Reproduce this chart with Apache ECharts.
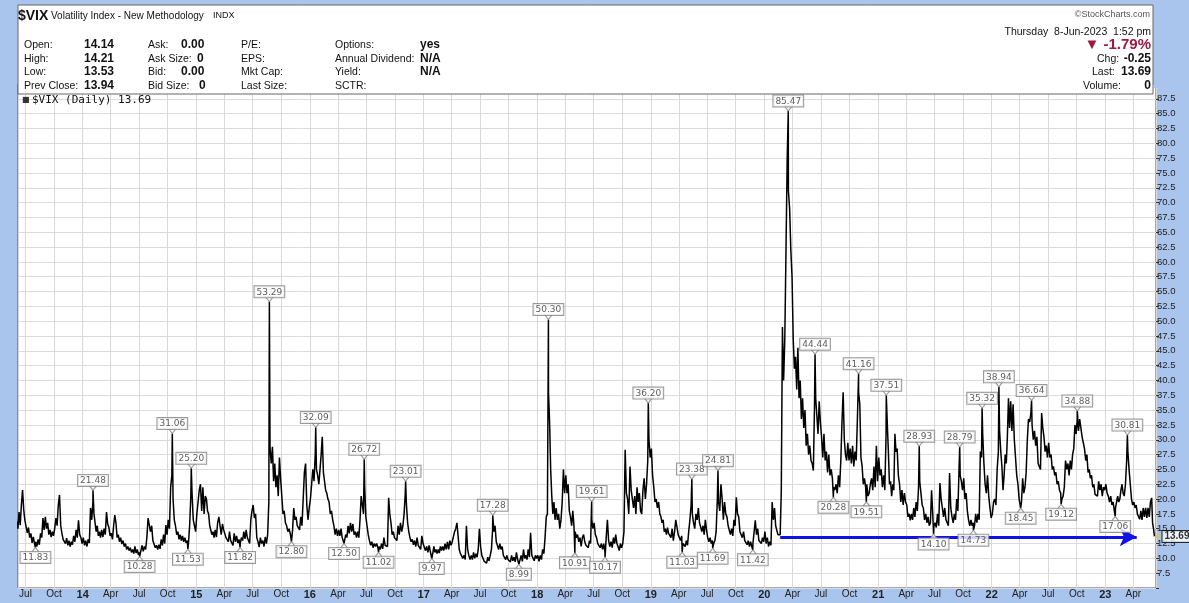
<!DOCTYPE html>
<html><head><meta charset="utf-8">
<script src="https://cdn.jsdelivr.net/npm/echarts@6/dist/echarts.min.js"></script>
<style>html,body{margin:0;padding:0;background:#a9c5ee;}#c{width:1189px;height:603px;}</style>
</head><body><div id="c"></div>
<script>
// ---- DATA: VIX daily, read as 8 alternating readings per month ----
const v2013 = [ // Jun..Dec
 16.2,15.0,17.8,15.6,19.0,21.5,18.2,16.4, 16.5,14.3,15.2,13.5,14.2,12.6,13.6,12.5, 12.8,12.0,13.2,12.3,14.2,13.5,16.8,14.8,
 17.0,15.0,16.0,14.0,14.8,13.6,14.5,13.8, 15.0,16.8,15.5,19.0,20.7,15.5,14.2,13.2, 13.5,12.5,13.4,12.2,13.0,12.0,12.8,12.3,
 13.8,12.8,14.8,13.5,16.4,14.0,13.5,12.5];
const v2014 = [
 13.5,12.2,13.0,12.0,13.2,12.6,18.5,16.5, 19.5,17.5,16.0,14.5,15.5,13.8,14.5,13.5, 14.8,13.6,15.0,14.0,17.8,15.8,15.2,13.8,
 14.2,13.2,15.5,17.3,16.0,13.5,14.0,12.8, 13.5,12.4,13.0,12.0,12.5,11.5,12.0,11.3, 11.8,11.0,11.5,10.8,12.0,10.9,11.5,10.6,
 11.0,10.6,12.2,11.2,12.0,11.5,13.5,16.8, 17.0,14.5,15.5,13.0,12.8,11.8,12.2,11.5, 12.3,11.6,13.2,12.2,14.0,12.5,15.6,14.0,
 16.5,15.0,22.0,24.0,20.0,16.5,15.5,14.0, 14.5,13.2,14.0,13.0,13.8,12.8,13.5,12.6, 13.0,12.5,15.5,20.5,21.0,16.5,15.5,14.5];
const v2015 = [
 17.5,19.5,21.5,22.5,18.0,22.0,17.5,20.5, 20.0,18.0,17.5,15.5,15.5,14.0,14.5,13.5, 14.8,13.6,16.0,17.0,15.5,14.0,15.8,14.8,
 14.8,13.5,13.8,12.8,14.5,13.0,13.0,12.2, 14.2,12.8,13.8,12.6,13.2,12.5,13.5,13.0, 14.5,13.3,14.8,13.5,13.8,12.5,16.5,18.0,
 19.0,16.8,17.5,13.5,12.8,11.9,13.5,12.5, 13.0,12.0,13.6,12.5,14.0,19.5,28.5,26.0, 28.8,23.0,26.0,22.0,24.0,20.5,27.0,23.5,
 20.5,17.5,18.0,16.0,15.5,14.5,15.0,14.2, 14.0,14.8,18.5,16.5,17.0,15.5,15.5,14.8, 17.0,15.5,20.0,24.5,26.0,19.0,16.5,18.5];
const v2016 = [
 20.0,22.5,25.0,23.0,27.5,25.0,24.0,22.5, 25.0,27.5,30.5,24.5,23.0,21.5,21.0,20.0, 19.5,17.5,18.0,16.5,15.5,14.0,15.0,13.8,
 14.8,13.8,15.0,13.5,13.8,13.0,14.0,13.5, 15.5,14.2,16.0,14.5,15.8,14.0,14.5,13.5, 14.5,13.5,16.5,20.5,19.0,17.5,22.0,17.0,
 15.5,14.0,13.0,12.2,12.8,11.8,12.5,12.0, 12.5,11.8,12.0,11.5,12.5,11.6,13.5,12.2, 12.5,12.0,20.2,17.5,16.0,14.0,14.5,13.5,
 13.5,13.0,15.5,14.0,16.0,14.5,15.5,17.5, 21.0,19.0,16.0,14.5,13.5,12.8,13.2,12.3, 13.0,12.0,13.5,12.2,12.5,11.5,13.8,12.5];
const v2017 = [
 12.5,11.3,12.0,11.0,12.2,11.2,11.0,10.8, 12.0,11.0,11.5,10.8,11.5,10.9,12.0,11.3, 12.0,11.3,12.5,11.5,12.8,11.5,13.0,12.2,
 12.8,12.5,14.5,15.0,16.0,13.8,11.5,10.8, 10.8,10.0,10.5,9.8,15.5,11.5,10.5,9.8, 10.5,9.8,11.0,10.0,10.8,10.2,11.5,15.0,
 12.0,10.5,10.2,9.5,9.8,9.2,10.2,9.6, 10.5,11.5,15.0,14.5,15.5,12.8,12.5,11.5, 12.5,11.5,12.0,10.5,10.8,9.8,10.5,9.8,
 10.0,9.4,10.5,9.6,10.2,9.4,11.0,9.8, 9.6,9.3,10.5,9.5,11.5,10.0,10.5,9.8, 11.5,10.2,14.3,10.5,10.8,9.6,10.5,10.0];
const v2018 = [
 10.5,9.5,10.5,9.8,11.5,10.8,13.5,17.0, 17.5,38.0,33.0,25.0,20.5,17.5,19.5,16.5, 18.5,16.5,17.5,15.0,16.5,19.5,25.0,21.0,
 24.0,21.0,22.5,18.0,17.0,15.5,18.0,15.5, 14.5,13.5,14.0,12.8,13.5,12.0,13.5,14.0, 12.8,12.2,12.5,11.8,13.0,12.5,16.5,15.0,
 16.0,14.0,13.5,12.5,12.8,11.8,12.5,11.5, 12.5,11.0,13.5,16.5,13.0,12.0,12.8,11.8, 13.5,12.5,14.0,12.5,12.0,11.3,12.5,11.8,
 12.5,14.5,28.3,21.0,20.0,17.5,25.5,21.5, 20.0,18.5,20.5,17.5,22.0,19.5,21.0,18.0, 17.5,21.5,23.5,20.0,22.5,26.5,30.0,27.0];
const v2019 = [
 28.5,24.0,22.0,19.5,20.0,18.5,19.5,17.5, 17.0,16.0,16.5,14.5,15.0,14.0,15.2,14.2, 14.0,13.5,15.0,13.0,14.5,16.5,16.8,14.0,
 14.0,13.0,13.8,12.5,12.8,12.0,13.0,12.2, 14.5,16.5,19.0,17.5,16.0,15.0,17.5,16.5, 18.5,16.0,16.0,14.5,15.5,14.0,16.5,14.8,
 13.5,12.8,13.5,12.5,13.0,12.5,13.0,14.5, 20.0,19.5,18.0,22.5,20.0,16.5,19.5,17.5, 17.0,15.5,15.5,14.0,15.0,13.8,16.5,15.5,
 20.3,17.5,17.0,14.5,14.2,13.5,14.5,13.0, 13.0,12.3,13.0,12.0,12.8,12.0,12.5,12.2, 16.4,14.0,15.0,13.0,13.0,12.5,13.5,12.8];
const v2020 = [
 14.5,12.5,13.5,12.0,12.8,12.2,19.5,16.5, 18.5,15.5,15.5,14.0,14.2,14.0,21.5,49.0, 40.0,47.0,62.0,77.5,72.0,69.0,62.0,57.5,
 47.0,42.0,44.0,38.5,45.5,37.0,40.0,33.5, 37.0,32.0,35.0,29.0,31.0,27.5,29.0,26.5, 26.0,24.8,36.0,37.0,34.0,31.0,36.5,33.0,
 30.5,27.0,31.0,26.5,28.0,24.5,27.5,24.0, 25.0,23.5,22.0,21.5,22.5,21.0,24.0,22.0, 26.5,33.0,38.0,30.0,27.5,26.5,29.5,26.5,
 28.5,26.0,29.0,25.5,28.0,26.5,33.5,38.0, 36.0,27.0,25.5,22.5,23.5,22.0,22.5,20.5, 21.0,22.5,23.5,21.5,25.5,22.0,29.0,23.0];
const v2021 = [
 27.0,24.0,25.0,22.0,24.0,21.5,30.5,33.0, 28.0,22.5,23.0,20.5,22.5,21.5,31.0,28.0, 28.5,24.0,22.5,19.5,21.5,19.0,21.0,19.5,
 19.0,17.0,17.5,16.4,17.5,16.5,18.5,17.0, 19.5,18.0,22.0,23.0,21.0,19.0,18.5,16.5, 17.5,16.0,17.0,15.5,16.0,21.5,17.5,15.5,
 16.0,15.2,17.5,15.5,22.7,20.0,18.5,17.0, 18.5,16.5,16.5,15.5,24.4,18.5,17.0,16.0, 17.5,16.5,20.0,18.0,25.0,24.0,23.0,21.5,
 23.5,20.0,21.0,18.0,16.5,15.5,16.5,15.5, 16.0,15.5,17.5,16.0,17.5,16.5,28.0,27.0, 31.0,26.0,22.5,21.0,24.0,20.5,18.5,16.8];
const v2022 = [
 17.5,19.5,20.0,19.0,25.0,28.0,31.5,28.0, 25.5,21.5,24.0,27.5,26.0,30.5,37.0,32.0, 36.5,31.5,36.0,30.0,27.0,24.0,22.5,20.0,
 20.0,19.5,23.5,21.0,22.0,24.5,30.0,33.5, 33.0,34.5,32.5,30.0,31.5,29.0,30.5,26.0, 26.0,25.0,34.5,32.0,30.5,28.0,29.0,27.0,
 29.5,27.0,27.5,25.0,25.5,24.0,24.5,22.5, 23.0,21.5,21.0,20.0,20.5,22.0,26.5,25.0, 26.0,24.0,26.5,25.0,27.5,28.5,32.5,31.0,
 33.5,31.5,33.5,32.0,30.5,29.5,28.5,26.5, 27.5,24.5,25.0,23.5,24.0,22.0,22.5,20.8, 21.0,20.5,23.0,21.5,22.5,20.5,22.0,21.5];
const v2023 = [ // Jan..May
 22.5,21.0,20.5,19.5,20.5,19.0,19.5,18.0, 18.5,18.5,20.5,19.5,20.0,21.5,22.5,21.0, 20.5,22.5,26.5,28.0,25.0,22.5,20.0,19.0,
 19.5,18.5,19.0,17.5,17.5,16.6,18.0,16.5, 18.5,17.0,18.5,16.8,18.5,17.0,19.5,20.2];
const lastDates = ['2023-06-02','2023-06-05','2023-06-08'];
const lastVals = [16.0, 15.0, 13.69];

const peakDates = ['2014-02-03','2014-10-16','2014-12-16','2015-08-24','2016-01-20','2016-06-24','2016-11-04','2017-08-11','2018-02-06','2018-06-25','2018-12-24','2019-05-13','2019-08-05','2020-03-18','2020-06-12','2020-10-30','2021-01-27','2021-05-13','2021-09-20','2021-12-01','2022-01-24','2022-05-09','2022-10-03','2023-03-13'];
const peakVals = [21.48,31.06,25.20,53.29,32.09,26.72,23.01,17.28,50.30,19.61,36.20,23.38,24.81,85.47,44.44,41.16,37.51,28.93,28.79,35.32,38.94,36.64,34.88,30.81];
const troughDates = ['2013-08-02','2014-07-03','2014-12-05','2015-05-22','2015-11-03','2016-04-20','2016-08-09','2017-01-27','2017-11-03','2018-05-02','2018-08-07','2019-04-12','2019-07-19','2019-11-25','2020-08-10','2020-11-24','2021-06-28','2021-11-03','2022-04-04','2022-08-12','2023-02-02'];
const troughVals = [11.83,10.28,11.53,11.82,12.80,12.50,11.02,9.97,8.99,10.91,10.17,11.03,11.69,11.42,20.28,19.51,14.10,14.73,18.45,19.12,17.06];

const arrowDates = ['2020-02-21','2023-04-12'];
const arrowLevel = 13.6;
const monthNames = ['Jan','Feb','Mar','Apr','May','Jun','Jul','Aug','Sep','Oct','Nov','Dec'];

// ---- build ----
const DAY = 86400000, PER = 8;
function ts(s){const p=s.split('-').map(Number);return Date.UTC(p[0],p[1]-1,p[2]);}
const yearBlocks = [[2013,5,v2013],[2014,0,v2014],[2015,0,v2015],[2016,0,v2016],[2017,0,v2017],[2018,0,v2018],[2019,0,v2019],[2020,0,v2020],[2021,0,v2021],[2022,0,v2022],[2023,0,v2023]];
const pts = [];
yearBlocks.forEach(([yr,m0,vals])=>{
  vals.forEach((v,k)=>{
    const m = m0 + Math.floor(k/PER), slot = k%PER;
    const dim = new Date(Date.UTC(yr,m+1,0)).getUTCDate();
    pts.push([Date.UTC(yr,m,1) + (slot+0.5)*dim/PER*DAY, v]);
  });
});
lastDates.forEach((d,i)=>pts.push([ts(d), lastVals[i]]));
peakDates.forEach((d,i)=>pts.push([ts(d), peakVals[i]]));
troughDates.forEach((d,i)=>pts.push([ts(d), troughVals[i]]));
pts.sort((a,b)=>a[0]-b[0]);

const labelBox = {show:true, formatter:p=>p.value[1].toFixed(2), color:'#333', fontFamily:'DejaVu Sans', fontSize:9,
  backgroundColor:'#fff', borderColor:'#808080', borderWidth:1, padding:[1,2,0,2], lineHeight:10};

const chart = echarts.init(document.getElementById('c'), null, {renderer:'canvas'});
const T = 'Liberation Sans';
function txt(x,y,s,o){return {type:'text', z:110, style:Object.assign({x:x,y:y,text:s,fill:'#111',font:'10.5px "Liberation Sans"',textVerticalAlign:'middle'},o||{})};}
const B = 'bold 12px "Liberation Sans"';
const rows=[45,59,72,86];
const g = [
  {type:'rect', z:100, shape:{x:1154,y:78,width:12,height:10}, style:{fill:'#a9c5ee'}},
  {type:'rect', z:100, shape:{x:18,y:5,width:1135,height:89}, style:{fill:'#fff',stroke:'#666',lineWidth:1}},
  txt(18,16,'$VIX',{font:'bold 14px "Liberation Sans"'}),
  txt(51,16,'Volatility Index - New Methodology',{font:'10px "Liberation Sans"'}),
  txt(213,16,'INDX',{font:'9px "Liberation Sans"'}),
  txt(1150,15,'\u00A9StockCharts.com',{font:'9px "Liberation Sans"',fill:'#555',textAlign:'right'}),
  txt(24,rows[0],'Open:'),txt(24,rows[1],'High:'),txt(24,rows[2],'Low:'),txt(24,rows[3],'Prev Close:'),
  txt(84,rows[0],'14.14',{font:B}),txt(84,rows[1],'14.21',{font:B}),
  txt(84,rows[2],'13.53',{font:B}),txt(84,rows[3],'13.94',{font:B}),
  txt(148,rows[0],'Ask:'),txt(148,rows[1],'Ask Size:'),txt(148,rows[2],'Bid:'),txt(148,rows[3],'Bid Size:'),
  txt(181,rows[0],'0.00',{font:B}),txt(197,rows[1],'0',{font:B}),
  txt(181,rows[2],'0.00',{font:B}),txt(199,rows[3],'0',{font:B}),
  txt(241,rows[0],'P/E:'),txt(241,rows[1],'EPS:'),txt(241,rows[2],'Mkt Cap:'),txt(241,rows[3],'Last Size:'),
  txt(335,rows[0],'Options:'),txt(335,rows[1],'Annual Dividend:'),txt(335,rows[2],'Yield:'),txt(335,rows[3],'SCTR:'),
  txt(420,rows[0],'yes',{font:B}),txt(420,rows[1],'N/A',{font:B}),txt(420,rows[2],'N/A',{font:B}),
  txt(1151,32,'Thursday  8-Jun-2023  1:52 pm',{textAlign:'right'}),
  txt(1151,45,'\u25BC -1.79%',{textAlign:'right',font:'bold 15px "Liberation Sans"',fill:'#9e1840'}),
  txt(1097,59,'Chg:'),txt(1151,59,'-0.25',{textAlign:'right',font:B}),
  txt(1092,72,'Last:'),txt(1151,72,'13.69',{textAlign:'right',font:B}),
  txt(1083,86,'Volume:'),txt(1151,86,'0',{textAlign:'right',font:B}),
  txt(22,100,'\u25A0',{font:'8px "DejaVu Sans"',fill:'#333'}),
  txt(32,100,'$VIX (Daily) 13.69',{font:'11px "DejaVu Sans Mono"',fill:'#111'})
];

chart.setOption({
  animation:false,
  backgroundColor:'#a9c5ee',
  graphic:g,
  grid:{left:18, right:33, top:84, bottom:15, show:true, backgroundColor:'#fff', borderColor:'#555', borderWidth:1},
  xAxis:{type:'time', min:ts('2013-06-07'), max:ts('2023-06-13'), minInterval:95*DAY, maxInterval:95*DAY,
    axisLine:{show:false}, axisTick:{show:false},
    splitLine:{show:true, lineStyle:{color:'#d9d9d9', width:1}},
    axisLabel:{margin:1, color:'#222', fontFamily:T, fontSize:10, hideOverlap:false,
      formatter:function(v){const d=new Date(v); const m=d.getUTCMonth(); if(m===0) return '{y|'+String(d.getUTCFullYear()).slice(2)+'}'; return monthNames[m];},
      rich:{y:{fontWeight:'bold', fontSize:11, fontFamily:T, color:'#222'}}}
  },
  yAxis:{type:'value', position:'right', min:5, max:90, interval:2.5,
    axisLine:{show:false}, axisTick:{show:true, length:3, lineStyle:{color:'#333'}},
    splitLine:{show:true, lineStyle:{color:'#dcdcdc'}},
    axisLabel:{margin:1, color:'#222', fontFamily:T, fontSize:9.5,
      formatter:function(v){ if(v<=5||v>=90) return ''; return v.toFixed(1);} }
  },
  series:[
    {type:'line', data:pts, showSymbol:false, symbol:'none', lineStyle:{color:'#000', width:1.5}, z:3, clip:true},
    {type:'line', data:[], z:4, markLine:{silent:true, symbol:['none','arrow'], symbolSize:[14,17], label:{show:false},
      lineStyle:{color:'#1010e8', width:3, type:'solid'},
      data:[[{coord:[ts(arrowDates[0]),arrowLevel]},{coord:[ts(arrowDates[1]),arrowLevel]}]]}},
    {type:'scatter', z:6, data:peakDates.map((d,i)=>[ts(d),peakVals[i]]),
      symbol:'path://M0,0 L10,0 L5,6 Z', symbolSize:[8,5], symbolOffset:[0,-2.5],
      itemStyle:{color:'#fff', borderColor:'#808080', borderWidth:1},
      label:Object.assign({position:'top', distance:-1}, labelBox)},
    {type:'scatter', z:6, data:troughDates.map((d,i)=>[ts(d),troughVals[i]]),
      symbol:'path://M0,6 L10,6 L5,0 Z', symbolSize:[8,5], symbolOffset:[0,2.5],
      itemStyle:{color:'#fff', borderColor:'#808080', borderWidth:1},
      label:Object.assign({position:'bottom', distance:-1}, labelBox)},
    {type:'scatter', z:7, data:[[ts(lastDates[2]),lastVals[2]]], symbol:'triangle', symbolRotate:90, symbolSize:6, symbolOffset:[2,0],
      itemStyle:{color:'#d4c36a'},
      label:{show:true, position:'right', distance:3, formatter:p=>p.value[1].toFixed(2), color:'#000', fontWeight:'bold',
        fontFamily:T, fontSize:10, backgroundColor:'#fff', borderColor:'#000', borderWidth:1, padding:[1,2,0,2]}}
  ]
});
</script></body></html>
